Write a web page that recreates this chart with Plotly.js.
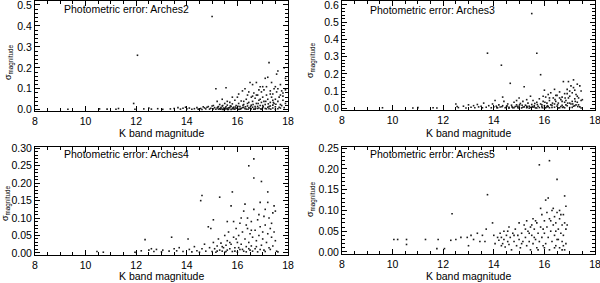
<!DOCTYPE html>
<html>
<head>
<meta charset="utf-8">
<script src="https://cdn.plot.ly/plotly-3.0.1.min.js"></script>
<style>html,body{margin:0;padding:0;background:#fff;}#chart{width:600px;height:283px;}</style>
</head>
<body>
<div id="chart"></div>
<script>
// Panel titles
const panelNames = ["Arches2", "Arches3", "Arches4", "Arches5"];
const xTitle = "K band magnitude";
const yTitle = "σ<sub>magnitude</sub>";

// Arches2
const kA2 = [9.3,10.55,10.85,11.2,11.3,11.9,11.95,12.05,12.3,12.5,
12.6,12.85,13.05,13.35,13.5,13.65,13.75,13.85,13.95,14.0,
14.1,14.2,14.3,14.4,14.45,14.55,14.6,14.7,14.75,14.8,
14.9,14.95,15.0,15.0,15.05,15.1,15.15,15.15,15.2,15.2,
15.25,15.3,15.3,15.35,15.4,15.4,15.45,15.5,15.5,15.55,
15.55,15.6,15.6,15.65,15.7,15.7,15.75,15.8,15.8,15.85,
15.9,15.9,15.95,16.0,16.0,16.05,16.1,16.1,16.15,16.2,
16.2,16.25,16.3,16.3,16.35,16.4,16.4,16.45,16.5,16.5,
16.55,16.55,16.6,16.6,16.65,16.65,16.7,16.7,16.75,16.75,
16.8,16.8,16.85,16.9,16.9,16.95,16.95,17.0,17.0,17.05,
17.05,17.1,17.1,17.15,17.15,17.2,17.2,17.25,17.25,17.3,
17.3,17.35,17.35,17.4,17.4,17.45,17.45,17.5,17.5,17.55,
17.55,17.6,17.6,17.65,17.65,17.7,17.7,17.75,17.8,17.8,
17.85,17.85,17.9,17.9,
15.25,15.35,15.45,15.55,15.65,15.75,15.85,15.95,16.05,16.15,
16.25,16.35,16.45,16.55,16.6,16.7,16.8,16.85,16.95,17.0,
17.1,17.2,17.25,17.3,17.4,17.5,17.6,17.7,17.75,15.4,
15.8,16.05,16.45,16.6,16.85,17.0,17.15,17.4,17.6,17.8,
17.9,15.05,14.85,14.65,15.6,16.25,16.9,17.3,17.5,17.7,
16.4,16.75,
15.22,15.32,15.42,15.52,15.62,15.72,15.82,15.92,16.02,16.12,
16.22,16.32,16.42,16.52,16.62,16.72,16.82,16.92,17.02,17.12,
17.22,17.32,17.42,17.52];
const sA2 = [0.002,0.004,0.003,0.002,0.006,0.030,0.002,0.26,0.004,0.008,
0.003,0.005,0.002,0.004,0.006,0.010,0.003,0.007,0.012,0.004,
0.008,0.002,0.005,0.010,0.003,0.006,0.001,0.009,0.004,0.012,
0.003,0.007,0.445,0.018,0.004,0.010,0.100,0.002,0.008,0.040,
0.015,0.005,0.025,0.011,0.002,0.018,0.008,0.030,0.004,0.105,
0.014,0.006,0.022,0.002,0.010,0.035,0.016,0.005,0.028,0.012,
0.003,0.045,0.020,0.008,0.060,0.030,0.002,0.015,0.042,0.090,
0.010,0.025,0.100,0.005,0.050,0.018,0.070,0.035,0.130,0.008,
0.060,0.022,0.120,0.040,0.003,0.080,0.015,0.055,0.130,0.030,
0.070,0.006,0.045,0.110,0.020,0.085,0.035,0.060,0.010,0.095,
0.040,0.150,0.025,0.070,0.004,0.155,0.050,0.225,0.015,0.090,
0.035,0.130,0.060,0.008,0.075,0.100,0.030,0.050,0.002,0.170,
0.085,0.185,0.040,0.060,0.012,0.120,0.025,0.090,0.080,0.045,
0.200,0.010,0.150,0.030,
0.003,0.006,0.001,0.004,0.009,0.001,0.004,0.007,0.002,0.006,
0.011,0.003,0.009,0.004,0.012,0.002,0.016,0.008,0.003,0.020,
0.006,0.012,0.005,0.018,0.022,0.014,0.005,0.008,0.020,0.05,
0.06,0.075,0.085,0.065,0.095,0.11,0.11,0.045,0.100,0.065,
0.095,0.02,0.015,0.014,0.04,0.04,0.05,0.075,0.11,0.07,
0.03,0.07,
0.012,0.002,0.020,0.009,0.001,0.018,0.008,0.013,0.017,0.004,
0.021,0.014,0.002,0.016,0.025,0.007,0.030,0.004,0.015,0.040,
0.028,0.003,0.035,0.026];

// Arches3
const kA3 = [9.6,10.8,11.0,11.6,11.75,12.5,12.55,12.6,12.8,12.9,
13.0,13.1,13.2,13.25,13.35,13.4,13.5,13.55,13.6,13.7,
13.75,13.8,13.9,13.95,14.0,14.05,14.1,14.15,14.2,14.25,
14.3,14.35,14.35,14.4,14.45,14.5,14.55,14.6,14.65,14.7,
14.75,14.8,14.85,14.9,14.95,15.0,15.0,15.05,15.1,15.15,
15.2,15.2,15.25,15.3,15.35,15.4,15.45,15.45,15.5,15.5,
15.55,15.6,15.6,15.65,15.7,15.7,15.75,15.8,15.8,15.85,
15.85,15.9,15.95,16.0,16.0,16.05,16.05,16.1,16.15,16.15,
16.2,16.25,16.25,16.3,16.35,16.4,16.4,16.45,16.5,16.5,
16.55,16.6,16.6,16.65,16.7,16.7,16.75,16.75,16.8,16.8,
16.85,16.9,16.9,16.95,16.95,17.0,17.0,17.05,17.05,17.1,
17.1,17.15,17.15,17.2,17.2,17.25,17.25,17.3,17.3,17.35,
17.4,17.4,17.45,17.45,17.5,
14.6,14.8,15.0,15.15,15.3,15.4,15.55,15.7,15.9,16.0,
16.1,16.2,16.3,16.4,16.55,16.65,16.8,16.85,17.0,17.1,
17.2,17.35,17.45,16.45,16.6,16.9,17.0,17.3,16.2,15.95,
15.3,14.9,16.7,17.15,
14.12,14.32,14.52,14.72,14.92,15.12,15.32,15.52,15.72,15.92,
16.12,16.32,16.52,16.72,16.92,17.12,17.32,15.02,15.62,16.02,
16.42,16.82,17.22];
const sA3 = [0.003,0.002,0.004,0.003,0.002,0.025,0.01,0.004,0.012,0.002,
0.02,0.006,0.015,0.003,0.022,0.008,0.012,0.003,0.03,0.006,
0.32,0.015,0.003,0.025,0.008,0.045,0.012,0.003,0.02,0.007,
0.25,0.065,0.015,0.04,0.003,0.01,0.025,0.006,0.145,0.018,
0.003,0.035,0.01,0.02,0.004,0.06,0.012,0.028,0.002,0.04,
0.125,0.008,0.018,0.003,0.03,0.012,0.07,0.005,0.55,0.022,
0.045,0.008,0.015,0.002,0.32,0.035,0.012,0.055,0.004,0.195,
0.025,0.009,0.04,0.105,0.015,0.065,0.003,0.03,0.08,0.01,
0.045,0.02,0.09,0.005,0.06,0.11,0.025,0.04,0.012,0.075,
0.03,0.095,0.003,0.05,0.018,0.065,0.155,0.008,0.085,0.035,
0.045,0.11,0.015,0.155,0.06,0.07,0.004,0.13,0.025,0.09,
0.04,0.165,0.012,0.105,0.055,0.08,0.02,0.14,0.035,0.06,
0.13,0.008,0.1,0.045,0.05,
0.001,0.004,0.002,0.006,0.012,0.001,0.006,0.002,0.02,0.001,
0.008,0.003,0.018,0.006,0.002,0.01,0.003,0.02,0.03,0.005,
0.015,0.02,0.002,0.075,0.06,0.085,0.1,0.07,0.06,0.07,
0.05,0.045,0.04,0.12,
0.004,0.009,0.014,0.008,0.012,0.018,0.007,0.010,0.022,0.003,
0.015,0.03,0.02,0.005,0.03,0.025,0.01,0.02,0.028,0.035,
0.05,0.06,0.04];

// Arches4
const kA4 = [10.45,10.7,11.95,12.0,12.2,12.35,12.5,12.6,12.7,12.8,
13.0,13.05,13.3,13.4,13.5,13.6,13.7,13.85,14.05,14.1,
14.2,14.3,14.4,14.5,14.55,14.6,14.6,14.7,14.75,14.85,
14.9,14.95,15.0,15.05,15.05,15.1,15.15,15.2,15.25,15.3,
15.3,15.35,15.4,15.45,15.5,15.5,15.55,15.6,15.6,15.65,
15.7,15.75,15.75,15.8,15.8,15.85,15.85,15.9,15.95,16.0,
16.0,16.05,16.1,16.1,16.15,16.2,16.25,16.25,16.3,16.3,
16.35,16.4,16.4,16.45,16.45,16.5,16.5,16.55,16.55,16.6,
16.65,16.65,16.65,16.7,16.7,16.75,16.8,16.8,16.85,16.9,
16.9,16.95,16.95,17.0,17.0,17.05,17.05,17.1,17.15,17.2,
17.2,17.2,17.25,17.25,17.3,17.35,17.4,17.4,17.45,17.45,
17.5,17.5,17.55,17.6,
15.2,15.4,15.55,15.7,15.9,16.05,16.2,16.35,16.45,16.6,
16.75,16.9,17.1,17.3,16.15,16.55,16.85,17.1,16.35,15.95,
15.6,17.35];
const sA4 = [0.004,0.002,0.002,0.001,0.006,0.038,0.008,0.012,0.004,0.01,
0.003,0.008,0.005,0.045,0.012,0.006,0.015,0.004,0.04,0.01,
0.003,0.018,0.006,0.002,0.15,0.165,0.012,0.025,0.005,0.075,
0.015,0.07,0.004,0.095,0.03,0.012,0.002,0.02,0.04,0.16,
0.008,0.028,0.005,0.015,0.05,0.002,0.022,0.035,0.008,0.06,
0.012,0.135,0.025,0.175,0.004,0.09,0.045,0.015,0.07,0.03,
0.002,0.05,0.01,0.085,0.025,0.06,0.12,0.005,0.14,0.04,
0.018,0.1,0.07,0.25,0.03,0.055,0.008,0.09,0.02,0.045,
0.27,0.215,0.125,0.065,0.012,0.035,0.095,0.003,0.05,0.145,
0.075,0.205,0.022,0.06,0.04,0.105,0.008,0.08,0.03,0.175,
0.145,0.055,0.1,0.015,0.07,0.045,0.115,0.02,0.135,0.06,
0.12,0.035,0.005,0.003,
0.005,0.018,0.004,0.03,0.005,0.015,0.01,0.003,0.012,0.005,
0.018,0.01,0.004,0.01,0.1,0.065,0.11,0.125,0.08,0.04,
0.09,0.085];

// Arches5
const kA5 = [10.05,10.2,10.55,10.55,11.3,11.75,11.8,12.05,12.3,12.35,
12.5,12.7,12.95,13.0,13.1,13.2,13.35,13.45,13.55,13.65,
13.7,13.75,13.95,14.0,14.05,14.15,14.2,14.25,14.3,14.35,
14.4,14.4,14.45,14.5,14.55,14.6,14.6,14.65,14.7,14.75,
14.8,14.85,14.9,14.95,15.0,15.0,15.05,15.1,15.15,15.2,
15.25,15.3,15.3,15.35,15.4,15.45,15.45,15.5,15.55,15.55,
15.6,15.65,15.7,15.7,15.75,15.8,15.8,15.85,15.85,15.9,
15.9,15.95,16.0,16.0,16.05,16.05,16.1,16.1,16.15,16.15,
16.2,16.2,16.2,16.25,16.3,16.3,16.35,16.35,16.4,16.4,
16.45,16.45,16.5,16.5,16.5,16.55,16.6,16.6,16.65,16.7,
16.7,16.75,16.75,16.8,16.8,16.8,16.85,16.85,16.85,16.9,
14.3,14.55,14.8,15.1,15.25,15.4,15.6,15.65,15.75,15.95,
16.0,16.25,16.45,16.55,16.65,16.7,16.75,16.6,16.4,15.5];
const sA5 = [0.03,0.03,0.03,0.018,0.03,0.008,0.03,0.008,0.028,0.092,
0.03,0.035,0.035,0.015,0.04,0.03,0.045,0.025,0.04,0.025,
0.055,0.138,0.07,0.04,0.02,0.035,0.028,0.045,0.035,0.02,
0.05,0.03,0.012,0.04,0.025,0.06,0.018,0.035,0.005,0.045,
0.025,0.055,0.015,0.04,0.03,0.07,0.01,0.045,0.025,0.065,
0.035,0.075,0.015,0.05,0.025,0.06,0.005,0.04,0.08,0.02,
0.055,0.03,0.07,0.01,0.045,0.21,0.025,0.105,0.06,0.09,
0.035,0.015,0.075,0.045,0.125,0.02,0.06,0.095,0.13,0.035,
0.22,0.08,0.005,0.05,0.1,0.025,0.105,0.065,0.04,0.085,
0.015,0.07,0.175,0.095,0.03,0.055,0.08,0.01,0.045,0.065,
0.025,0.09,0.04,0.135,0.07,0.005,0.11,0.055,0.02,0.065,
0.015,0.05,0.04,0.02,0.055,0.045,0.035,0.075,0.005,0.055,
0.01,0.075,0.05,0.03,0.09,0.005,0.015,0.1,0.01,0.065];

const FONT = "Liberation Sans, Arial, Helvetica, sans-serif";
const marker = {symbol: "square", size: 1.6, color: "#1a1a1a", line: {width: 0}};

const series = [[kA2, sA2], [kA3, sA3], [kA4, sA4], [kA5, sA5]];
const traces = series.map((s, i) => ({
  type: "scatter", mode: "markers", x: s[0], y: s[1],
  xaxis: i === 0 ? "x" : "x" + (i + 1),
  yaxis: i === 0 ? "y" : "y" + (i + 1),
  marker: marker, hoverinfo: "skip", showlegend: false, cliponaxis: false
}));

function xax(dom, anchor) {
  return {
    domain: dom, anchor: anchor, range: [8, 18], tick0: 8, dtick: 2,
    ticks: "inside", ticklen: 5, tickwidth: 1, tickcolor: "#000",
    showline: true, linecolor: "#000", linewidth: 1, mirror: "allticks",
    showgrid: false, zeroline: false, ticklabeloverflow: "allow",
    tickfont: {family: FONT, size: 10.5, color: "#000"},
    minor: {dtick: 0.5, tick0: 8, ticks: "inside", ticklen: 3, tickcolor: "#000", showgrid: false}
  };
}
function yax(dom, anchor, range, dtick, mdt, fmt) {
  return {
    domain: dom, anchor: anchor, range: range, tick0: 0, dtick: dtick, tickformat: fmt,
    ticks: "inside", ticklen: 5, tickwidth: 1, tickcolor: "#000",
    showline: true, linecolor: "#000", linewidth: 1, mirror: "allticks",
    showgrid: false, zeroline: false, ticklabeloverflow: "allow",
    tickfont: {family: FONT, size: 10.5, color: "#000"},
    minor: {dtick: mdt, tick0: 0, ticks: "inside", ticklen: 3, tickcolor: "#000", showgrid: false}
  };
}

const H = 283, W = 600;
const px = v => v / W;
const py = v => 1 - v / H;

const layout = {
  width: W, height: H,
  margin: {l: 0, r: 0, t: 0, b: 0},
  paper_bgcolor: "#fff", plot_bgcolor: "#fff",
  font: {family: FONT, color: "#000"},
  xaxis: xax([px(35), px(288)], "y"),
  yaxis: yax([py(111), py(1)], "x", [-0.006, 0.519], 0.1, 0.02, ".1f"),
  xaxis2: xax([px(342), px(595)], "y2"),
  yaxis2: yax([py(110), py(1)], "x2", [-0.01, 0.623], 0.1, 0.02, ".1f"),
  xaxis3: xax([px(35), px(288)], "y3"),
  yaxis3: yax([py(255), py(147)], "x3", [-0.006, 0.304], 0.05, 0.01, ".2f"),
  xaxis4: xax([px(342), px(595)], "y4"),
  yaxis4: yax([py(254), py(147)], "x4", [-0.005, 0.253], 0.05, 0.01, ".2f"),
  annotations: []
};

const titlePos = [[62, 9], [368, 10], [62, 154], [368, 154]];
const xTitlePos = [[161, 133], [468, 133], [161, 276], [468, 276]];
const yTitlePos = [[9, 63], [311, 61], [6, 204], [311, 200]];
for (let i = 0; i < 4; i++) {
  layout.annotations.push({
    text: "Photometric error: " + panelNames[i], xref: "paper", yref: "paper",
    x: px(titlePos[i][0]), y: py(titlePos[i][1]), xanchor: "left", yanchor: "middle",
    showarrow: false, font: {family: FONT, size: 10.5, color: "#000"}
  });
  layout.annotations.push({
    text: xTitle, xref: "paper", yref: "paper",
    x: px(xTitlePos[i][0]), y: py(xTitlePos[i][1]), xanchor: "center", yanchor: "middle",
    showarrow: false, font: {family: FONT, size: 10.5, color: "#000"}
  });
  layout.annotations.push({
    text: yTitle, xref: "paper", yref: "paper", textangle: -90,
    x: px(yTitlePos[i][0]), y: py(yTitlePos[i][1]), xanchor: "center", yanchor: "middle",
    showarrow: false, font: {family: FONT, size: 9, color: "#000"}
  });
}

Plotly.newPlot("chart", traces, layout, {staticPlot: true, displayModeBar: false});
</script>
</body>
</html>
